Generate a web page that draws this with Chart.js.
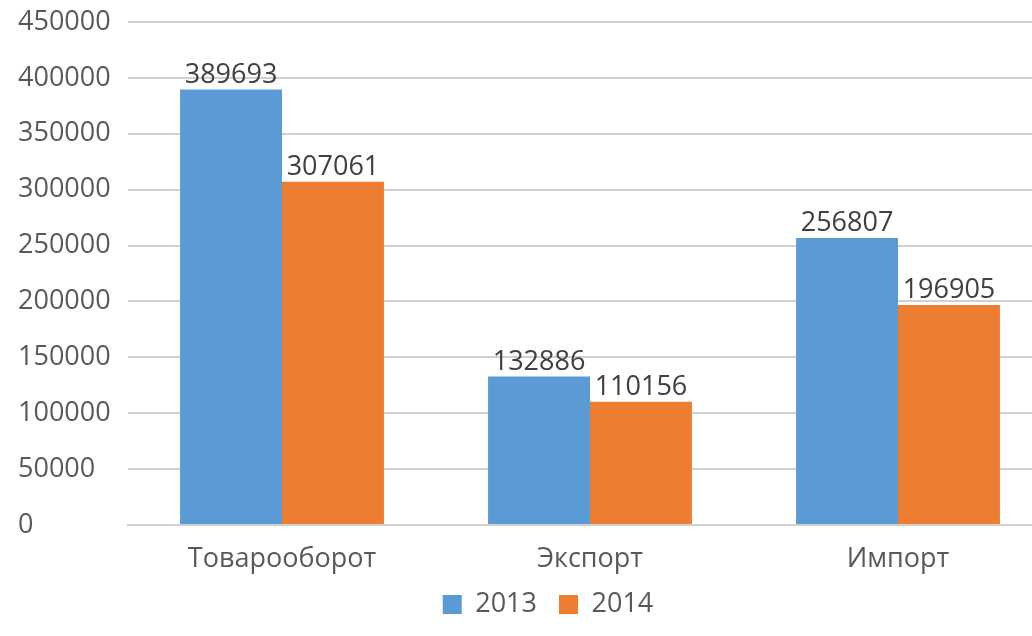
<!DOCTYPE html>
<html>
<head>
<meta charset="utf-8">
<script src="https://cdn.jsdelivr.net/npm/chart.js@4"></script>
<style>
  html, body { margin: 0; padding: 0; background: #fff; overflow: hidden; }
  #wrap { width: 1096px; height: 636px; }
</style>
</head>
<body>
<div id="wrap"><canvas id="tradeChart"></canvas></div>
<script>
// Chart data
const categories = ['Товарооборот', 'Экспорт', 'Импорт'];
const seriesNames = ['2013', '2014'];
const values2013 = [389693, 132886, 256807];
const values2014 = [307061, 110156, 196905];
const yTicks = [0, 50000, 100000, 150000, 200000, 250000, 300000, 350000, 400000, 450000];

const FONT = "'Open Sans', 'DejaVu Sans', sans-serif";
const GRID = '#d0d0d0';

// draws value above each bar
const valueLabels = {
  id: 'valueLabels',
  afterDatasetsDraw(chart) {
    const ctx = chart.ctx;
    ctx.save();
    ctx.font = '27px ' + FONT;
    ctx.fillStyle = '#404040';
    ctx.textAlign = 'center';
    ctx.textBaseline = 'bottom';
    chart.data.datasets.forEach((ds, i) => {
      chart.getDatasetMeta(i).data.forEach((bar, j) => {
        ctx.fillText(String(ds.data[j]), bar.x, bar.y - 1);
      });
    });
    ctx.restore();
  }
};

// nudge legend so it sits where the original one is
const legendNudge = {
  id: 'legendNudge',
  afterLayout(chart) {
    const lg = chart.legend;
    if (!lg) return;
    lg.left += 13; lg.right += 13;
    lg.top -= 8; lg.bottom -= 8;
  }
};

const ctx = document.getElementById('tradeChart').getContext('2d');
new Chart(ctx, {
  type: 'bar',
  data: {
    labels: categories,
    datasets: [
      { label: seriesNames[0], data: values2013, backgroundColor: '#5b9bd5' },
      { label: seriesNames[1], data: values2014, backgroundColor: '#ed7d31' }
    ]
  },
  options: {
    responsive: true,
    maintainAspectRatio: false,
    animation: false,
    categoryPercentage: 0.662,
    barPercentage: 1,
    layout: { padding: { top: 22, right: 44, bottom: 0, left: 18 } },
    plugins: {
      tooltip: { enabled: false },
      legend: {
        position: 'bottom',
        labels: {
          color: '#595959',
          font: { family: FONT, size: 27 },
          boxWidth: 19,
          boxHeight: 19,
          padding: 22
        }
      }
    },
    scales: {
      y: {
        min: 0,
        max: 450000,
        afterBuildTicks: (scale) => { scale.ticks = yTicks.map(v => ({ value: v })); },
        afterFit: (scale) => { scale.width = 110; scale.paddingTop = 0; scale.paddingBottom = 0; },
        grid: { color: GRID, lineWidth: 2, drawTicks: false },
        border: { display: false },
        ticks: {
          color: '#595959',
          padding: 16,
          crossAlign: 'far',
          font: { family: FONT, size: 27 },
          callback: (v) => String(v)
        }
      },
      x: {
        afterFit: (scale) => { scale.height = 52; },
        grid: { display: false },
        border: { color: GRID, width: 2 },
        ticks: { color: '#595959', padding: 10, font: { family: FONT, size: 27 } }
      }
    }
  },
  plugins: [valueLabels, legendNudge]
});
</script>
</body>
</html>
